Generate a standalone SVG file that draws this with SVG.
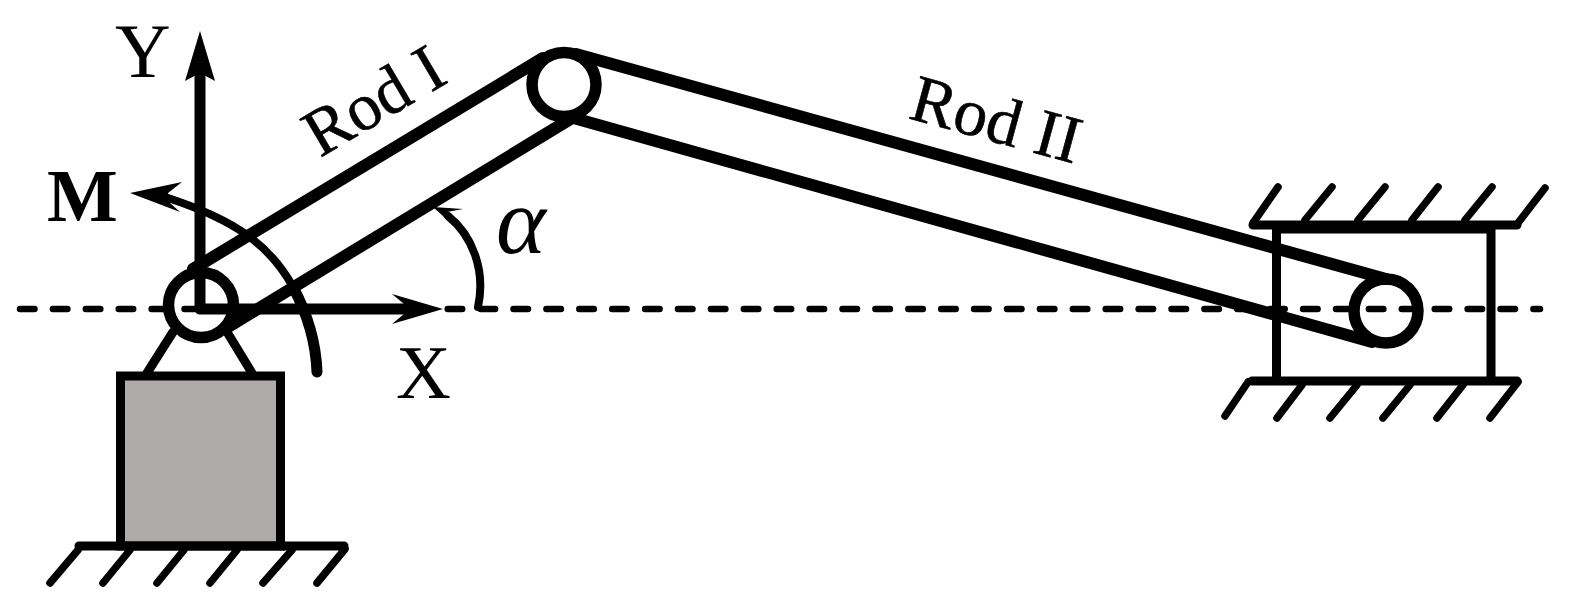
<svg xmlns="http://www.w3.org/2000/svg" width="1577" height="612" viewBox="0 0 1577 612">
<style>
text{text-rendering:geometricPrecision}
.t{font-family:"Liberation Serif",serif;fill:#000}
.r{stroke:#000;stroke-width:0.6}
.rod{stroke:#000;stroke-width:12;fill:none;stroke-linecap:round}
.l{stroke:#000;stroke-width:11;fill:none;stroke-linecap:round}
.s{stroke:#000;stroke-width:9;fill:none;stroke-linecap:round}
.h{stroke:#000;stroke-width:7.500;fill:none;stroke-linecap:round}
.a{stroke:#000;stroke-width:8;fill:none;stroke-linecap:round}
.d{stroke:#000;stroke-width:6.500;fill:none;stroke-dasharray:14.500 18.400;stroke-linecap:round}
.j{fill:none;stroke:#000;stroke-width:11.500}
</style>
<rect width="1577" height="612" fill="#fff"/>
<g id="connectors">
<path class="d" d="M20 309H1540"/>
<path class="rod" d="M193 269L543 58M228 327L572 118M576 54L1386 279M570 117L1372 342"/>
<path class="l" d="M200 307V70M200 309H420"/>
<path class="s" d="M173 332L147 373M227 332L252 373"/>
<path class="l" d="M317 372C316 345 308 315 293 287"/>
<path class="a" d="M293 287C270 245 235 220 168 198M478 307C486 270 472 235 448 216"/>
<path d="M200 31L185 81L200 73L215 81Z M443 309L392 294L410 309L392 324Z M130 193L182 182L168 193L170 203L180 212Z M433 207L463 209L447 212L450 220L455 227Z" fill="#000"/>
</g>
<g id="base"><rect x="120.500" y="376" width="160" height="170" fill="#aeaaaa" stroke="#000" stroke-width="9"/><path class="s" d="M79 546H344"/><path class="h" d="M78 550L50 583M130 550L103 583M184 550L157 583M237 550L210 583M292 550L263 583M345 549L317 583"/></g>
<g id="slider"><path class="s" d="M1253 225H1517M1252 381H1517"/><path class="h" d="M1253 223L1278 187M1305 220L1332 187M1358 220L1385 187M1412 220L1438 187M1465 220L1492 187M1518 223L1545 188M1248 382L1225 416M1302 385L1277 418M1357 385L1330 418M1410 385L1383 418M1463 385L1437 418M1518 382L1490 418"/><path d="M1276.500 229V381M1491 229V381M1272 229H1495" stroke="#000" stroke-width="9" fill="none"/></g>
<g id="joint-a"><circle class="j" cx="201" cy="305" r="32.500"/></g>
<g id="joint-b"><circle class="j" cx="564" cy="84.500" r="32"/></g>
<g id="joint-c"><circle class="j" cx="1386" cy="311" r="32"/></g>
<g id="labels">
<text class="t" x="115" y="77" font-size="77">Y</text>
<text class="t" x="396" y="398" font-size="76">X</text>
<text class="t" x="47" y="221" font-size="75" font-weight="bold">M</text>
<text class="t" x="496" y="253" font-size="95" font-style="italic">α</text>
<text class="t r" font-size="67" transform="translate(320 158) rotate(-30.500)">Rod I</text>
<text class="t r" font-size="67" transform="translate(907 118) rotate(15.300)">Rod II</text>
</g>
</svg>
